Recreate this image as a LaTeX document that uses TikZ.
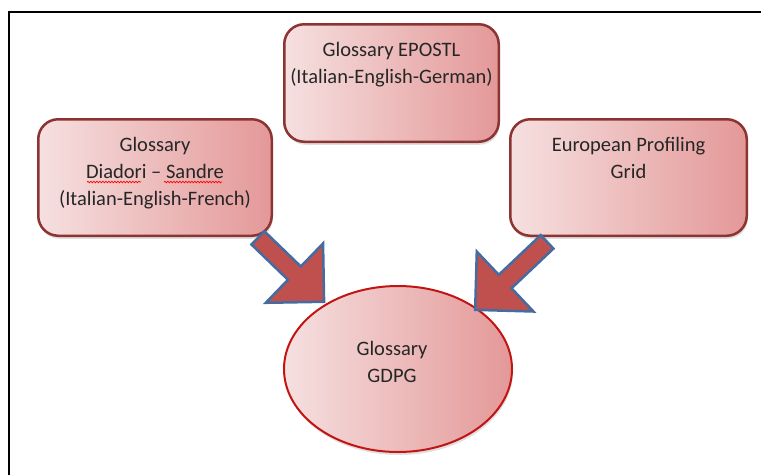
\documentclass[tikz,border=0pt]{standalone}
\usepackage{fontspec}
\setmainfont{Carlito}
\usetikzlibrary{shapes.geometric,shapes.arrows,shadows,positioning,decorations.pathmorphing}

\definecolor{boxlight}{RGB}{246,224,224}
\definecolor{boxdark}{RGB}{228,152,152}
\definecolor{boxline}{RGB}{140,52,50}
\definecolor{ringline}{RGB}{195,20,20}
\definecolor{arrowfill}{RGB}{192,80,77}
\definecolor{arrowline}{RGB}{68,108,160}
\definecolor{textgray}{RGB}{38,38,38}

% text set from the top of a box
\newcommand{\toplines}[3]{\parbox[c][#1][t]{#2}{\centering\vspace*{18pt}#3}}

\tikzset{
  glossbox/.style={draw=boxline, line width=2.5pt, rounded corners=20pt,
    left color=boxlight, right color=boxdark, inner sep=0pt, text=textgray,
    drop shadow={shadow xshift=1pt, shadow yshift=-3pt, opacity=0.25}},
  glossring/.style={ellipse, draw=ringline, line width=2pt,
    left color=boxlight, right color=boxdark, inner sep=0pt,
    drop shadow={shadow xshift=1pt, shadow yshift=-3pt, opacity=0.25}},
  glosstext/.style={text=textgray, inner sep=0pt, align=center},
  blockarrow/.style={single arrow, fill=arrowfill, draw=arrowline, line width=2.5pt,
    inner sep=8pt, single arrow head extend=32pt, anchor=tail},
  spellwave/.style={red, line width=0.7pt,
    decorate, decoration={snake, segment length=3pt, amplitude=0.8pt}}
}

\begin{document}
\begin{tikzpicture}[x=1pt, y=-1pt, font=\fontsize{20.5pt}{27pt}\selectfont]
        \useasboundingbox (0,0) rectangle (761,475);

        % Frame
        \draw[line width=2.5pt] (9,475) -- (9,12) -- (761,12);

        % Glossaries
        \node[glossbox, minimum width=214.5pt, minimum height=117.5pt] (epostl) at (391.5,83)
            {\toplines{117.5pt}{214.5pt}{Glossary EPOSTL\\(Italian-English-German)}};
        \node[glossbox, minimum width=233.5pt, minimum height=116.5pt] (diadori) at (155,177.5)
            {\toplines{116.5pt}{233.5pt}{Glossary\\Diadori -- Sandre\\(Italian-English-French)}};
        \node[glossbox, minimum width=236.5pt, minimum height=116.5pt] (european) at (628.5,177.5)
            {\toplines{116.5pt}{236.5pt}{European Profiling\\Grid}};

        % Spell check marks
        \draw[spellwave] (87,182) -- (141,182);
        \draw[spellwave] (164,182) -- (222,182);

        % Result
        \node[glossring, minimum width=228pt, minimum height=166pt] (gdpg) at (398,369) {};
        \node[glosstext] (gdpgtext) at (392,361.5) {Glossary\\GDPG};

        % Arrows
        \node[blockarrow, minimum height=92pt, rotate=-44] (arrowleft)
            at ([xshift=-16pt]diadori.south east) {};
        \node[blockarrow, minimum height=99pt, rotate=-136.6] (arrowright)
            at ([xshift=39pt, yshift=-4pt]european.south west) {};
    \end{tikzpicture}
\end{document}
